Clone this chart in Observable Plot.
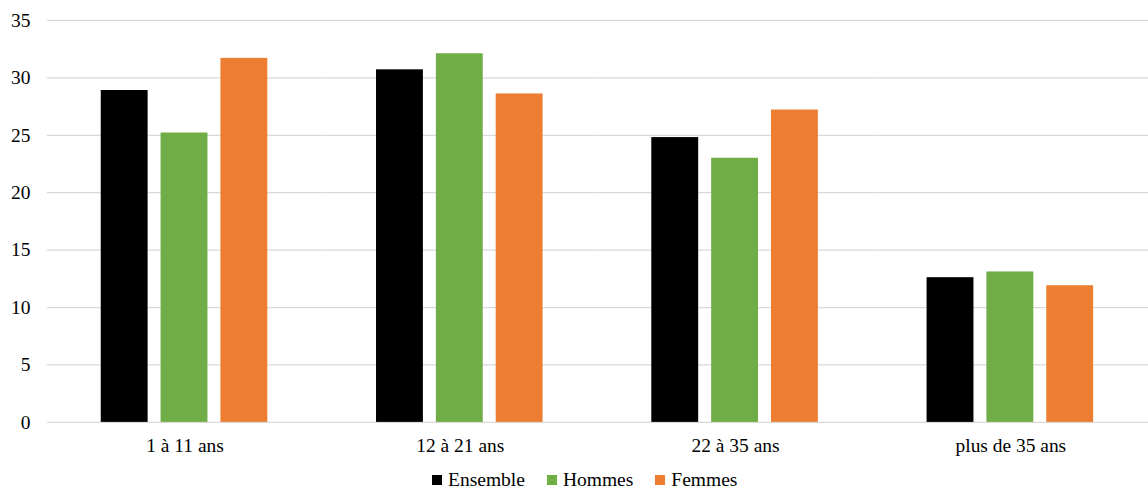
<!DOCTYPE html>
<html>
<head>
<meta charset="utf-8">
<script src="https://cdn.jsdelivr.net/npm/d3@7"></script>
<script src="https://cdn.jsdelivr.net/npm/@observablehq/plot@0.6"></script>
<style>
  html, body { margin: 0; padding: 0; background: #fff; }
  #wrap { width: 1148px; overflow: hidden; font-family: "Liberation Serif", "Times New Roman", serif; }
  #chart svg, #chart svg text { font-family: "Liberation Serif", "Times New Roman", serif !important; font-size: 19.5px; }
  #legend { display: flex; align-items: center; padding-left: 432px; margin-top: 9px; font-size: 19.5px; color: #000; line-height: 24px; }
  .item { display: flex; align-items: center; margin-right: 22px; }
  .sw { width: 10px; height: 10px; margin-right: 6px; }
</style>
</head>
<body>
<div id="wrap">
  <div id="chart"></div>
  <div id="legend"></div>
</div>
<script>
const categories = ["1 à 11 ans", "12 à 21 ans", "22 à 35 ans", "plus de 35 ans"];
const series = ["Ensemble", "Hommes", "Femmes"];
const ensemble = [28.9, 30.7, 24.8, 12.6];
const hommes = [25.2, 32.1, 23.0, 13.1];
const femmes = [31.7, 28.6, 27.2, 11.9];
const colors = ["#000000", "#70AD47", "#ED7D31"];
const yTicks = [0, 5, 10, 15, 20, 25, 30, 35];

const valuesBySeries = [ensemble, hommes, femmes];
const data = [];
categories.forEach((c, i) => {
  series.forEach((s, j) => {
    data.push({ category: c, series: s, value: valuesBySeries[j][i] });
  });
});

const chart = Plot.plot({
  width: 1151,
  height: 460,
  marginLeft: 47,
  marginRight: 0,
  marginTop: 20,
  marginBottom: 37,
  style: { fontFamily: "'Liberation Serif', 'Times New Roman', serif", fontSize: "19.5px", color: "#000", background: "#fff" },
  fx: { domain: categories, padding: 0, label: null, tickSize: 0, tickPadding: 16 },
  x: { domain: series, paddingInner: 0.2131, paddingOuter: 0.8689, axis: null },
  y: { domain: [0, 35], ticks: yTicks, label: null, tickSize: 0, tickPadding: 17 },
  color: { domain: series, range: colors },
  marks: [
    Plot.gridY(yTicks, { stroke: "#d9d9d9", strokeOpacity: 1, strokeWidth: 1.2 }),
    Plot.barY(data, { fx: "category", x: "series", y: "value", fill: "series" })
  ]
});
document.getElementById("chart").appendChild(chart);

const legend = document.getElementById("legend");
series.forEach((s, j) => {
  const item = document.createElement("div");
  item.className = "item";
  const sw = document.createElement("span");
  sw.className = "sw";
  sw.style.background = colors[j];
  const t = document.createElement("span");
  t.textContent = s;
  item.appendChild(sw);
  item.appendChild(t);
  legend.appendChild(item);
});
</script>
</body>
</html>
